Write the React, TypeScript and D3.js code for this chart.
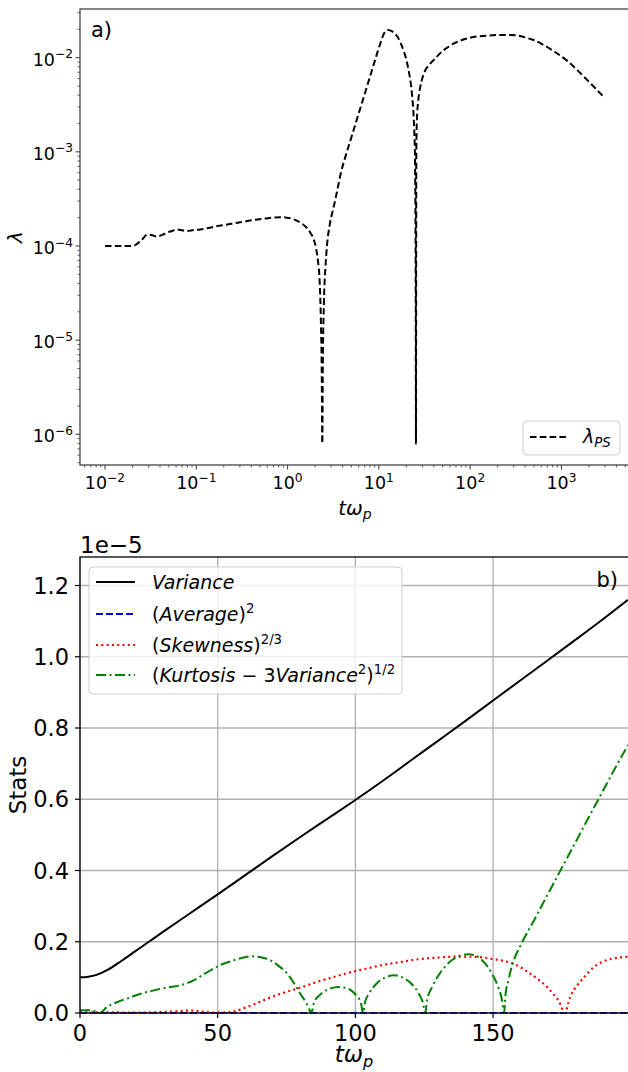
import React, { useEffect, useRef } from 'react'
import * as d3 from 'd3'

// panel a) lambda_PS vs t*omega_p (log-log)
const lambdaT = [
  0.01, 0.02, 0.025, 0.029, 0.033, 0.037, 0.043, 0.048, 0.055, 0.062,
  0.07, 0.079, 0.09, 0.11, 0.14, 0.17, 0.21, 0.26, 0.33, 0.42,
  0.55, 0.7, 0.85, 0.98, 1.15, 1.38, 1.6, 1.77, 1.93, 2.05,
  2.15, 2.25, 2.32, 2.37, 2.4, 2.43, 2.5, 2.6, 2.7, 2.9,
  3.2, 3.5, 3.8, 4.3, 4.9, 5.5, 6.25, 7.1, 8.05, 9.2,
  10.4, 11.5, 12.6, 14, 15.8, 17.2, 18.7, 20, 21.2, 22.2,
  23, 23.8, 24.4, 24.9, 25.3, 25.5, 25.7, 26.1, 27, 28.4,
  30, 32.2, 35.5, 39.7, 45, 51.2, 65, 80, 92, 120,
  160, 214, 275, 350, 420, 496, 650, 850, 1150, 1600,
  2100, 2890
]
const lambdaV = [
  1e-4, 1e-4, 1.15e-4, 1.32e-4, 1.3e-4, 1.26e-4, 1.32e-4, 1.39e-4, 1.45e-4, 1.5e-4,
  1.47e-4, 1.44e-4, 1.47e-4, 1.5e-4, 1.56e-4, 1.63e-4, 1.68e-4, 1.74e-4, 1.81e-4, 1.89e-4,
  1.95e-4, 2.0e-4, 2.02e-4, 2.0e-4, 1.93e-4, 1.77e-4, 1.58e-4, 1.39e-4, 1.18e-4, 9.5e-5,
  7e-5, 4e-5, 1.5e-5, 4e-6, 8e-7, 5e-6, 2.5e-5, 6e-5, 1.0e-4, 1.7e-4,
  2.6e-4, 3.9e-4, 5.75e-4, 8.9e-4, 1.34e-3, 1.93e-3, 2.89e-3, 4.31e-3, 6.43e-3, 9.8e-3,
  1.43e-2, 1.84e-2, 1.97e-2, 1.9e-2, 1.7e-2, 1.45e-2, 1.18e-2, 9.5e-3, 7.3e-3, 5.6e-3,
  4.2e-3, 2.8e-3, 1.7e-3, 8e-4, 5e-5, 8e-7, 9e-4, 2.2e-3, 3.5e-3, 4.9e-3,
  6.1e-3, 7.3e-3, 8.4e-3, 9.4e-3, 1.07e-2, 1.2e-2, 1.4e-2, 1.53e-2, 1.6e-2, 1.68e-2,
  1.72e-2, 1.74e-2, 1.74e-2, 1.7e-2, 1.62e-2, 1.54e-2, 1.35e-2, 1.15e-2, 9.3e-3, 6.9e-3,
  5.3e-3, 3.85e-3
]
const logXTicks = [-2, -1, 0, 1, 2, 3]
const logYTicks = [-6, -5, -4, -3, -2]

// panel b) stats (units of 1e-5)
const varianceT = [0, 3, 6, 10, 15, 20, 25, 30, 40, 50, 60, 70, 80, 90, 100, 110, 120, 130, 140, 150, 160, 170, 180, 190, 199]
const varianceV = [0.1, 0.102, 0.107, 0.121, 0.146, 0.173, 0.2, 0.227, 0.28, 0.333, 0.387, 0.441, 0.494, 0.546, 0.598, 0.652, 0.708, 0.764, 0.82, 0.877, 0.934, 0.991, 1.048, 1.106, 1.16]

const averageT = [0, 50, 100, 150, 199]
const averageV = [0.0005, 0.0005, 0.0005, 0.0005, 0.0005]

const skewT = [0, 10, 20, 30, 36, 40, 44, 50, 55, 60, 64, 68, 74, 80, 86, 92.1, 98, 104.2, 110, 116.3, 123, 130.8, 135.5, 140.5, 145, 150.2, 154.5, 158.6, 163, 167.1, 170, 172, 174, 176, 178, 180, 183, 186, 189, 192.5, 196, 199]
const skewV = [0.002, 0.002, 0.001, 0.003, 0.005, 0.007, 0.004, 0.001, 0.003, 0.015, 0.027, 0.04, 0.057, 0.071, 0.087, 0.101, 0.114, 0.125, 0.135, 0.143, 0.151, 0.156, 0.158, 0.158, 0.157, 0.151, 0.145, 0.134, 0.113, 0.09, 0.07, 0.052, 0.032, 0, 0.045, 0.072, 0.1, 0.125, 0.141, 0.151, 0.156, 0.158]

const kurtT = [0, 4, 5.5, 7, 10, 13.6, 18, 22, 26, 29.3, 33, 36.5, 39, 41.4, 44, 47.4, 51, 55.9, 59, 62.5, 66, 69.2, 72, 75.2, 78, 80, 82, 83.6, 84, 85, 87, 90, 94, 98, 100, 102, 102.8, 103.5, 105, 108, 111, 114, 117, 120, 123, 124.5, 125.4, 126, 128, 131, 135, 138, 141, 144, 147, 150, 152, 153.3, 154, 154.5, 155.5, 157.4, 160, 165, 170, 175, 180, 185, 190, 195, 199]
const kurtV = [0.008, 0.008, 0.005, 0, 0.018, 0.031, 0.043, 0.054, 0.062, 0.068, 0.073, 0.078, 0.084, 0.092, 0.104, 0.12, 0.135, 0.148, 0.155, 0.159, 0.156, 0.148, 0.133, 0.111, 0.08, 0.054, 0.03, 0.005, 0, 0.03, 0.05, 0.066, 0.073, 0.066, 0.052, 0.028, 0, 0.03, 0.055, 0.085, 0.1, 0.106, 0.1, 0.085, 0.055, 0.03, 0, 0.035, 0.075, 0.115, 0.148, 0.161, 0.165, 0.16, 0.14, 0.105, 0.07, 0.035, 0, 0.05, 0.09, 0.145, 0.19, 0.262, 0.335, 0.408, 0.48, 0.553, 0.625, 0.697, 0.752]

const statXTicks = [0, 50, 100, 150]
const statYTicks = [0, 0.2, 0.4, 0.6, 0.8, 1.0, 1.2]

const FONT = 'DejaVu Sans, sans-serif'

type Seg = { t: string; it?: boolean; sup?: boolean; sub?: boolean }

function richText(g: any, x: number, y: number, segs: Seg[], size: number, anchor = 'start') {
  const txt = g.append('text')
    .attr('x', x).attr('y', y)
    .attr('font-size', size)
    .attr('text-anchor', anchor)
    .attr('fill', '#000')
  let shift = 0
  segs.forEach(s => {
    const target = s.sup ? -size * 0.42 : s.sub ? size * 0.22 : 0
    txt.append('tspan')
      .attr('dy', target - shift)
      .attr('font-size', s.sup || s.sub ? size * 0.7 : size)
      .attr('font-style', s.it ? 'italic' : 'normal')
      .text(s.t)
    shift = target
  })
  return txt
}

function App() {
  const ref = useRef<SVGSVGElement>(null)

  useEffect(() => {
    const svg = d3.select(ref.current)
    svg.selectAll('*').remove()
    svg.attr('font-family', FONT)

    // ---------- panel a ----------
    const a = { left: 80, top: 9, right: 630, bottom: 465 }
    const x1 = d3.scaleLog().domain([Math.pow(10, -2.274), Math.pow(10, 3.751)]).range([a.left, a.right])
    const y1 = d3.scaleLog().domain([Math.pow(10, -6.326), Math.pow(10, -1.483)]).range([a.bottom, a.top])
    const g1 = svg.append('g')

    // minor ticks
    const minorX: number[] = []
    for (let e = -3; e <= 3; e++) for (let m = 2; m <= 9; m++) {
      const v = m * Math.pow(10, e)
      if (v > x1.domain()[0] && v < x1.domain()[1]) minorX.push(v)
    }
    const minorY: number[] = []
    for (let e = -7; e <= -2; e++) for (let m = 2; m <= 9; m++) {
      const v = m * Math.pow(10, e)
      if (v > y1.domain()[0] && v < y1.domain()[1]) minorY.push(v)
    }
    g1.selectAll('.mx').data(minorX).enter().append('line')
      .attr('x1', d => x1(d)).attr('x2', d => x1(d))
      .attr('y1', a.bottom).attr('y2', a.bottom + 2.5)
      .attr('stroke', '#333').attr('stroke-width', 0.8)
    g1.selectAll('.my').data(minorY).enter().append('line')
      .attr('y1', d => y1(d)).attr('y2', d => y1(d))
      .attr('x1', a.left).attr('x2', a.left - 2.5)
      .attr('stroke', '#333').attr('stroke-width', 0.8)

    logXTicks.forEach(e => {
      const px = x1(Math.pow(10, e))
      g1.append('line').attr('x1', px).attr('x2', px).attr('y1', a.bottom).attr('y2', a.bottom + 4.5)
        .attr('stroke', '#333').attr('stroke-width', 1)
      richText(g1, px, a.bottom + 24, [{ t: '10' }, { t: e < 0 ? '\u2212' + Math.abs(e) : String(e), sup: true }], 17.5, 'middle')
    })
    logYTicks.forEach(e => {
      const py = y1(Math.pow(10, e))
      g1.append('line').attr('y1', py).attr('y2', py).attr('x1', a.left).attr('x2', a.left - 4.5)
        .attr('stroke', '#333').attr('stroke-width', 1)
      richText(g1, a.left - 7, py + 8, [{ t: '10' }, { t: '\u2212' + Math.abs(e), sup: true }], 17.5, 'end')
    })

    g1.append('rect').attr('x', a.left).attr('y', a.top)
      .attr('width', a.right - a.left).attr('height', a.bottom - a.top)
      .attr('fill', 'none').attr('stroke', '#444').attr('stroke-width', 1.3)

    const lambdaLine = d3.line<number>()
      .x((d, i) => x1(lambdaT[i]))
      .y(d => y1(d))
      .curve(d3.curveMonotoneX)
    g1.append('path').datum(lambdaV).attr('d', lambdaLine)
      .attr('fill', 'none').attr('stroke', '#000').attr('stroke-width', 2)
      .attr('stroke-dasharray', '6.5,3.3')

    richText(g1, 91, 37, [{ t: 'a)' }], 21)
    richText(g1, (a.left + a.right) / 2, 515, [{ t: 't\u03c9', it: true }, { t: 'p', it: true, sub: true }], 20, 'middle')
    const yl1 = richText(g1, 0, 0, [{ t: '\u03bb', it: true }], 20, 'middle')
    yl1.attr('transform', `translate(22,${(a.top + a.bottom) / 2}) rotate(-90)`)

    // legend a
    g1.append('rect').attr('x', 523).attr('y', 421).attr('width', 97).attr('height', 34)
      .attr('rx', 4).attr('fill', '#fff').attr('fill-opacity', 0.8)
      .attr('stroke', '#cccccc').attr('stroke-width', 1)
    g1.append('line').attr('x1', 530).attr('x2', 568).attr('y1', 437).attr('y2', 437)
      .attr('stroke', '#000').attr('stroke-width', 2).attr('stroke-dasharray', '6.5,3.3')
    richText(g1, 583, 443, [{ t: '\u03bb', it: true }, { t: 'PS', it: true, sub: true }], 19)

    // ---------- panel b ----------
    const b = { left: 80, top: 557, right: 629, bottom: 1013 }
    const x2 = d3.scaleLinear().domain([0, 199]).range([b.left, 628])
    const y2 = d3.scaleLinear().domain([0, 1.28]).range([b.bottom, b.top])
    const g2 = svg.append('g')

    g2.append('clipPath').attr('id', 'clipb').append('rect')
      .attr('x', b.left).attr('y', b.top).attr('width', b.right - b.left).attr('height', b.bottom - b.top + 2)

    // grid
    g2.selectAll('.gx').data(statXTicks).enter().append('line')
      .attr('x1', d => x2(d)).attr('x2', d => x2(d)).attr('y1', b.top).attr('y2', b.bottom)
      .attr('stroke', '#b0b0b0').attr('stroke-width', 1.3)
    g2.selectAll('.gy').data(statYTicks).enter().append('line')
      .attr('y1', d => y2(d)).attr('y2', d => y2(d)).attr('x1', b.left).attr('x2', b.right)
      .attr('stroke', '#b0b0b0').attr('stroke-width', 1.3)

    // ticks + labels
    statXTicks.forEach(t => {
      g2.append('line').attr('x1', x2(t)).attr('x2', x2(t)).attr('y1', b.bottom).attr('y2', b.bottom + 5)
        .attr('stroke', '#000').attr('stroke-width', 1.2)
      richText(g2, x2(t), b.bottom + 28, [{ t: String(t) }], 22.5, 'middle')
    })
    statYTicks.forEach(t => {
      g2.append('line').attr('y1', y2(t)).attr('y2', y2(t)).attr('x1', b.left).attr('x2', b.left - 5)
        .attr('stroke', '#000').attr('stroke-width', 1.2)
      richText(g2, b.left - 11, y2(t) + 8, [{ t: d3.format('.1f')(t) }], 22.5, 'end')
    })
    richText(g2, 80, 553, [{ t: '1e\u22125' }], 23)

    const plot = g2.append('g').attr('clip-path', 'url(#clipb)')
    const mk = (ts: number[]) => d3.line<number>().x((d, i) => x2(ts[i])).y(d => y2(d)).curve(d3.curveMonotoneX)

    plot.append('path').datum(averageV).attr('d', mk(averageT))
      .attr('fill', 'none').attr('stroke', '#0000ff').attr('stroke-width', 1.8).attr('stroke-dasharray', '7,3')
    plot.append('path').datum(skewV).attr('d', mk(skewT))
      .attr('fill', 'none').attr('stroke', '#ff0000').attr('stroke-width', 2.2).attr('stroke-dasharray', '2,3.3')
    plot.append('path').datum(kurtV).attr('d', mk(kurtT))
      .attr('fill', 'none').attr('stroke', '#008000').attr('stroke-width', 2).attr('stroke-dasharray', '10,3.5,2,3.5')
    plot.append('path').datum(varianceV).attr('d', mk(varianceT))
      .attr('fill', 'none').attr('stroke', '#000').attr('stroke-width', 2)

    g2.append('rect').attr('x', b.left).attr('y', b.top)
      .attr('width', b.right - b.left).attr('height', b.bottom - b.top)
      .attr('fill', 'none').attr('stroke', '#000').attr('stroke-width', 1.3)

    richText(g2, 618, 587, [{ t: 'b)' }], 21, 'end')
    richText(g2, (b.left + 628) / 2, 1062, [{ t: 't\u03c9', it: true }, { t: 'p', it: true, sub: true }], 23, 'middle')
    const yl2 = richText(g2, 0, 0, [{ t: 'Stats' }], 23, 'middle')
    yl2.attr('transform', `translate(26,${(b.top + b.bottom) / 2}) rotate(-90)`)

    // legend b
    g2.append('rect').attr('x', 89).attr('y', 567).attr('width', 313).attr('height', 127)
      .attr('rx', 4).attr('fill', '#fff').attr('fill-opacity', 0.8)
      .attr('stroke', '#cccccc').attr('stroke-width', 1)
    const legendItems = [
      { y: 582, stroke: '#000', dash: null, w: 2, segs: [{ t: 'Variance', it: true }] },
      { y: 614, stroke: '#0000ff', dash: '7,3', w: 1.8, segs: [{ t: '(' }, { t: 'Average', it: true }, { t: ')' }, { t: '2', sup: true }] },
      { y: 645, stroke: '#ff0000', dash: '2,3.3', w: 2.2, segs: [{ t: '(' }, { t: 'Skewness', it: true }, { t: ')' }, { t: '2/3', sup: true }] },
      { y: 675, stroke: '#008000', dash: '10,3.5,2,3.5', w: 2, segs: [{ t: '(' }, { t: 'Kurtosis', it: true }, { t: ' \u2212 3' }, { t: 'Variance', it: true }, { t: '2', sup: true }, { t: ')' }, { t: '1/2', sup: true }] }
    ]
    legendItems.forEach(it => {
      const ln = g2.append('line').attr('x1', 96).attr('x2', 135).attr('y1', it.y).attr('y2', it.y)
        .attr('stroke', it.stroke).attr('stroke-width', it.w)
      if (it.dash) ln.attr('stroke-dasharray', it.dash)
      richText(g2, 152, it.y + 7, it.segs as Seg[], 19)
    })
  }, [])

  return (
    <div>
      <svg ref={ref} width={628} height={1072}
        style={{ position: 'absolute', left: 0, top: 0, background: '#fff' }} />
    </div>
  )
}

export default App
